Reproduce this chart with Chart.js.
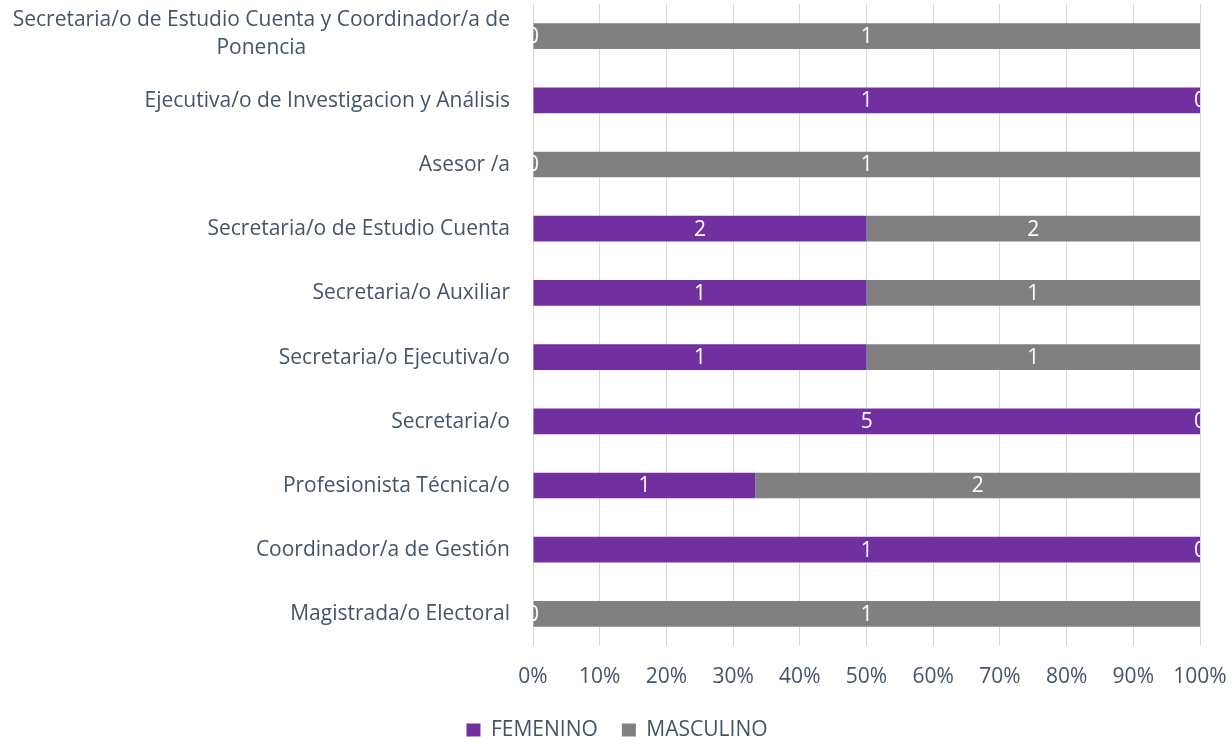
<!DOCTYPE html>
<html><head><meta charset="utf-8">
<script src="https://cdn.jsdelivr.net/npm/chart.js@4/dist/chart.umd.min.js"></script>
<style>html,body{margin:0;padding:0;background:#fff}#wrap{width:1232px;height:744px}</style>
</head><body><div id="wrap"><canvas id="c" width="1232" height="744"></canvas></div>
<script>
const categories = [
  ["Secretaria/o de Estudio Cuenta y Coordinador/a de", "Ponencia"],
  "Ejecutiva/o de Investigacion y Análisis",
  "Asesor /a",
  "Secretaria/o de Estudio Cuenta",
  "Secretaria/o Auxiliar",
  "Secretaria/o Ejecutiva/o",
  "Secretaria/o",
  "Profesionista Técnica/o",
  "Coordinador/a de Gestión",
  "Magistrada/o Electoral"
];
const femenino = [0, 1, 0, 2, 1, 1, 5, 1, 1, 0];
const masculino = [1, 0, 1, 2, 1, 1, 0, 2, 0, 1];
const xTicks = ["0%","10%","20%","30%","40%","50%","60%","70%","80%","90%","100%"];

const totals = femenino.map((f, i) => f + masculino[i]);
const femPct = femenino.map((f, i) => f / totals[i] * 100);
const mascPct = masculino.map((m, i) => m / totals[i] * 100);
const rawCounts = [femenino, masculino];

const FONT = '"Open Sans"';
const FS = 21;
const TEXT = '#44546A';

const labelPlugin = {
  id: 'valueLabels',
  afterDatasetsDraw(chart) {
    const ctx = chart.ctx, a = chart.chartArea;
    ctx.save();
    ctx.beginPath(); ctx.rect(a.left, a.top, a.right - a.left, a.bottom - a.top); ctx.clip();
    ctx.font = FS + 'px ' + FONT; ctx.fillStyle = '#fff';
    ctx.textAlign = 'center'; ctx.textBaseline = 'middle';
    chart.data.datasets.forEach((ds, di) => {
      chart.getDatasetMeta(di).data.forEach((el, i) => {
        const x = (el.x + el.base) / 2;
        ctx.fillText(String(rawCounts[di][i]), x, el.y + 1);
      });
    });
    ctx.restore();
  }
};

const yLabelPlugin = {
  id: 'yLabels',
  afterDraw(chart) {
    const ctx = chart.ctx, y = chart.scales.y;
    ctx.save();
    ctx.font = FS + 'px ' + FONT; ctx.fillStyle = TEXT; ctx.textBaseline = 'middle';
    const xr = 510;
    categories.forEach((lab, i) => {
      const py = y.getPixelForValue(i);
      if (Array.isArray(lab)) {
        const w1 = ctx.measureText(lab[0]).width;
        ctx.textAlign = 'right';
        ctx.fillText(lab[0], xr, py - 16);
        ctx.textAlign = 'center';
        ctx.fillText(lab[1], xr - w1 / 2, py + 11.5);
      } else {
        ctx.textAlign = 'right';
        ctx.fillText(lab, xr, py + 0.5);
      }
    });
    ctx.restore();
  }
};

const legendShift = {
  id: 'legendShift',
  afterLayout(chart) {
    const lg = chart.legend;
    if (!lg) return;
    const dy = 6.5, dx = 17;
    lg.top += dy; lg.bottom += dy;
    lg.left += dx; lg.right += dx;
  }
};

new Chart(document.getElementById('c'), {
  type: 'bar',
  data: {
    labels: categories.map(l => Array.isArray(l) ? l.join(' ') : l),
    datasets: [
      { label: 'FEMENINO', data: femPct, backgroundColor: '#7030A0', borderWidth: 0, barPercentage: 0.4, categoryPercentage: 1 },
      { label: 'MASCULINO', data: mascPct, backgroundColor: '#808080', borderWidth: 0, barPercentage: 0.4, categoryPercentage: 1 }
    ]
  },
  options: {
    indexAxis: 'y',
    responsive: false,
    animation: false,
    layout: { padding: { top: 4, right: 32, bottom: 0, left: 0 } },
    scales: {
      x: {
        stacked: true, min: 0, max: 100,
        grid: { color: '#D9D9D9', drawTicks: false },
        border: { display: false },
        ticks: { stepSize: 10, padding: 18, color: TEXT, font: { family: FONT, size: FS },
          callback: (v, i) => xTicks[i] },
        afterFit(s) { s.paddingRight = 0; s.paddingLeft = 0; s.height = 43; }
      },
      y: {
        stacked: true,
        grid: { display: false },
        border: { display: false },
        ticks: { display: false },
        afterFit(s) { s.width = 533; }
      }
    },
    plugins: {
      legend: {
        position: 'bottom',
        labels: { boxWidth: 14, boxHeight: 13, color: TEXT, font: { family: FONT, size: FS }, padding: 24 }
      },
      tooltip: { enabled: false }
    }
  },
  plugins: [labelPlugin, yLabelPlugin, legendShift]
});
</script></body></html>
